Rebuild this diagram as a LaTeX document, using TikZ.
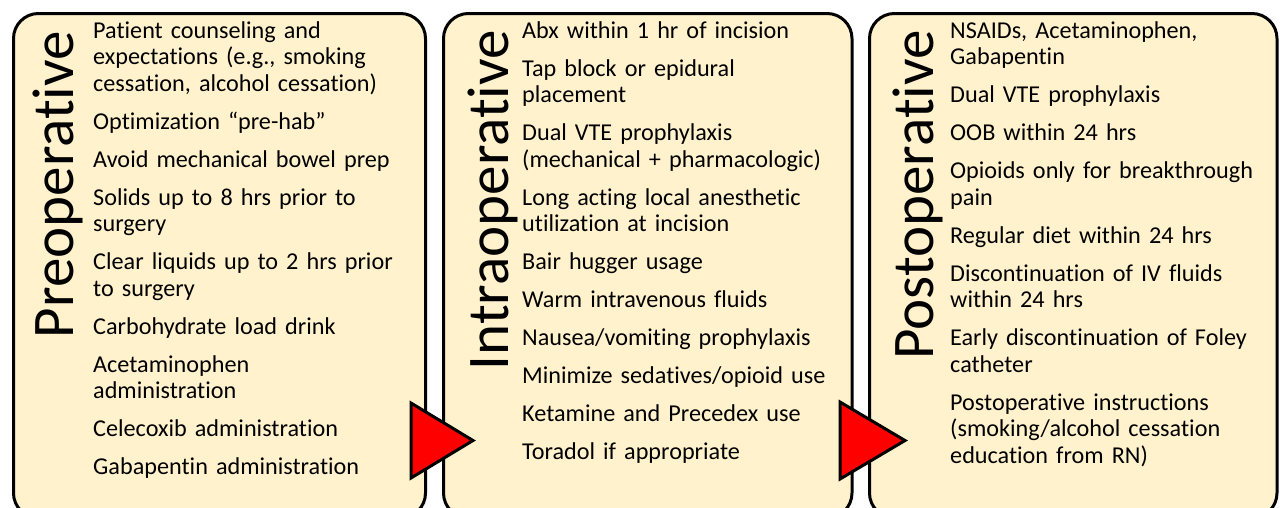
\documentclass[tikz,border=0pt]{standalone}
\usepackage{fontspec}
\setmainfont[Ligatures={NoCommon,NoDiscretionary,NoContextual}]{Carlito}
\begin{document}
\begin{tikzpicture}[x=1pt,y=-1pt,
  box/.style={draw=black, line width=3pt, fill=cream, rounded corners=25pt, inner sep=0pt},
  title/.style={rotate=90, anchor=base east, inner sep=0pt, font=\fontsize{59}{61}\selectfont},
  items/.style={anchor=north west, inner sep=0pt, text width=345pt, align=left, font=\fontsize{24.2}{26.5}\selectfont},
  tri/.style={draw=black, line width=3pt, fill=red, line join=miter}
]
\definecolor{cream}{HTML}{FFF2CC}
\useasboundingbox (0,0) rectangle (1280,507);
\clip (0,0) rectangle (1280,507);
\fill[white] (0,0) rectangle (1280,507);

% boxes
\draw[box] (13.5,13.5) rectangle (425.5,518);
\draw[box] (443.5,13.5) rectangle (852,518);
\draw[box] (869.5,13.5) rectangle (1277,518);

% titles
\node[title] (t1) at (73,31) {Preoperative};
\node[title] (t2) at (508,30) {Intraoperative};
\node[title] (t3) at (933,30) {Postoperative};

% items
\newcommand{\topstrut}{\rule{0pt}{20pt}}
\node[items] (c1) at (93,18) {\topstrut Patient counseling and\\expectations (e.g., smoking\\cessation, alcohol cessation)\\[11.5pt]
Optimization “pre-hab”\\[11.5pt]
Avoid mechanical bowel prep\\[11.5pt]
Solids up to 8 hrs prior to\\surgery\\[11.5pt]
Clear liquids up to 2 hrs prior\\to surgery\\[11.5pt]
Carbohydrate load drink\\[11.5pt]
Acetaminophen\\administration\\[11.5pt]
Celecoxib administration\\[11.5pt]
Gabapentin administration};

\node[items] (c2) at (522,18) {\topstrut Abx within 1 hr of incision\\[11.5pt]
Tap block or epidural\\placement\\[11.5pt]
Dual VTE prophylaxis\\(mechanical + pharmacologic)\\[11.5pt]
Long acting local anesthetic\\utilization at incision\\[11.5pt]
Bair hugger usage\\[11.5pt]
Warm intravenous fluids\\[11.5pt]
Nausea/vomiting prophylaxis\\[11.5pt]
Minimize sedatives/opioid use\\[11.5pt]
Ketamine and Precedex use\\[11.5pt]
Toradol if appropriate};

\node[items] (c3) at (950,18) {\topstrut NSAIDs, Acetaminophen,\\Gabapentin\\[11.5pt]
Dual VTE prophylaxis\\[11.5pt]
OOB within 24 hrs\\[11.5pt]
Opioids only for breakthrough\\pain\\[11.5pt]
Regular diet within 24 hrs\\[11.5pt]
Discontinuation of IV fluids\\within 24 hrs\\[11.5pt]
Early discontinuation of Foley\\catheter\\[11.5pt]
Postoperative instructions\\(smoking/alcohol cessation\\education from RN)};

% triangles
\coordinate (a1) at (411,403);
\coordinate (a2) at (411,478);
\coordinate (a3) at (473,440.5);
\draw[tri] (a1) -- (a3) -- (a2) -- cycle;
\coordinate (b1) at (840,402);
\coordinate (b2) at (840,479);
\coordinate (b3) at (905,440.5);
\draw[tri] (b1) -- (b3) -- (b2) -- cycle;
\end{tikzpicture}
\end{document}
